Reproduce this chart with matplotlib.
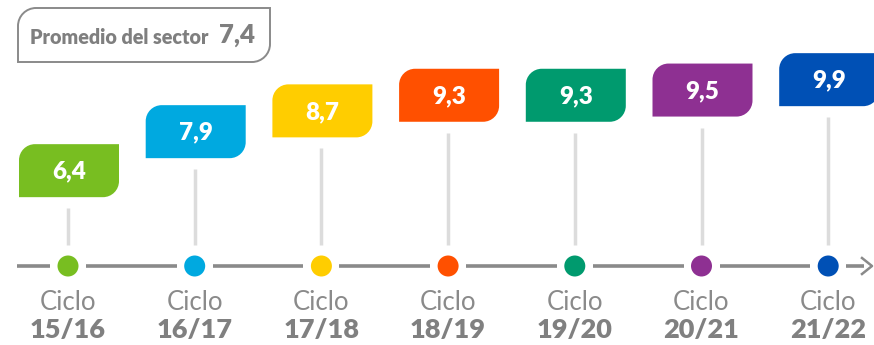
import matplotlib.pyplot as plt
from matplotlib.path import Path
from matplotlib.patches import PathPatch, Circle

plt.rcParams['font.family'] = ['Lato', 'DejaVu Sans']

# Promedio por ciclo
ciclos = ['15/16', '16/17', '17/18', '18/19', '19/20', '20/21', '21/22']
notas = [6.4, 7.9, 8.7, 9.3, 9.3, 9.5, 9.9]
colores = ['#78BE21', '#00A9E0', '#FFCD00', '#FF5000', '#009A6E', '#8E3092', '#0050B5']
promedio_sector = 7.4

W, H = 874, 345
linea_y = 266
x0, paso = 68, 126.7
ancho, alto = 100, 53
gris = '#8a8a8a'


def fmt(v):
    return f'{v:.1f}'.replace('.', ',')


def hoja(x, y, w, h, r):
    # rectangle with rounded top-left and bottom-right corners (y grows downward)
    k = 0.5523 * r
    verts = [
        (x + r, y),
        (x + w, y),
        (x + w, y + h - r),
        (x + w, y + h - r + k), (x + w - r + k, y + h), (x + w - r, y + h),
        (x, y + h),
        (x, y + r),
        (x, y + r - k), (x + r - k, y), (x + r, y),
        (x + r, y),
    ]
    codes = [Path.MOVETO, Path.LINETO, Path.LINETO,
             Path.CURVE4, Path.CURVE4, Path.CURVE4,
             Path.LINETO, Path.LINETO,
             Path.CURVE4, Path.CURVE4, Path.CURVE4,
             Path.CLOSEPOLY]
    return Path(verts, codes)


fig = plt.figure(figsize=(W / 100, H / 100), dpi=100)
ax = fig.add_axes([0, 0, 1, 1])
ax.set_xlim(0, W)
ax.set_ylim(H, 0)
ax.axis('off')

# header box
ax.add_patch(PathPatch(hoja(18, 8, 252, 54, 18), facecolor='white',
                       edgecolor=gris, lw=1.4))
ax.text(30, 37, 'Promedio del sector', color='#7f7f7f', fontsize=14.2,
        fontweight='heavy', va='center', ha='left')
ax.text(219, 35, fmt(promedio_sector), color='#7f7f7f', fontsize=18.5,
        fontweight='heavy', va='center', ha='left')

xs = [x0 + i * paso for i in range(len(ciclos))]

# timeline with gaps around the dots
tramos = [17] + [v for x in xs for v in (x - 18, x + 18)] + [864]
for a, b in zip(tramos[::2], tramos[1::2]):
    ax.plot([a, b], [linea_y, linea_y], color=gris, lw=2.6, solid_capstyle='butt')
ax.plot([862, 872, 862], [linea_y - 8, linea_y, linea_y + 8], color=gris, lw=1.8)

for x, v, c, ciclo in zip(xs, notas, colores, ciclos):
    top = linea_y - (182 + 26 * (v - 8.714))
    ax.add_patch(PathPatch(hoja(x - 49, top, ancho, alto, 16), facecolor=c,
                           edgecolor='none'))
    ax.text(x + 1, top + alto / 2 + 1, fmt(v), color='white', fontsize=17.5,
            fontweight='heavy', ha='center', va='center')
    ax.plot([x, x], [top + alto + 11, linea_y - 21], color='#dcdcdc', lw=2.5,
            solid_capstyle='butt')
    ax.add_patch(Circle((x, linea_y), 10.5, facecolor=c, edgecolor='none'))
    ax.text(x, 302, 'Ciclo', color='#8a8a8a', fontsize=18.5, fontweight='normal',
            ha='center', va='center')
    ax.text(x, 330, ciclo, color='#808080', fontsize=19.5, fontweight='heavy',
            ha='center', va='center')

fig.savefig('out.png', dpi=100)
